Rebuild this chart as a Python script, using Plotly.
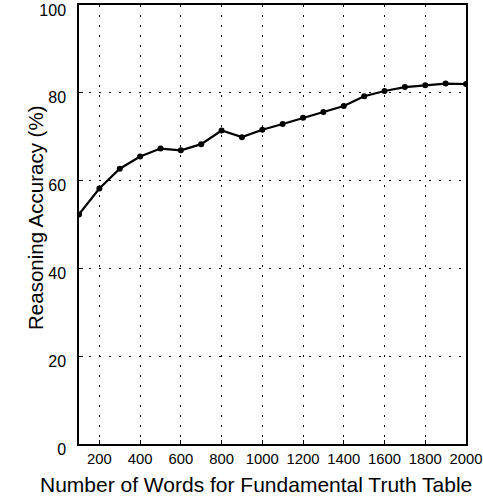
import plotly.graph_objects as go

words = [100, 200, 300, 400, 500, 600, 700, 800, 900, 1000,
         1100, 1200, 1300, 1400, 1500, 1600, 1700, 1800, 1900, 2000]
accuracy = [52.3, 58.2, 62.7, 65.5, 67.3, 66.9, 68.3, 71.4, 69.9, 71.6,
            72.9, 74.3, 75.6, 77.0, 79.2, 80.4, 81.3, 81.7, 82.1, 82.0]
x_ticks = [200, 400, 600, 800, 1000, 1200, 1400, 1600, 1800, 2000]
y_ticks = [0, 20, 40, 60, 80, 100]
x_title = "Number of Words for Fundamental Truth Table"
y_title = "Reasoning Accuracy (%)"

font_family = "Liberation Sans, Arial, Helvetica, sans-serif"

fig = go.Figure()
fig.add_trace(go.Scatter(
    x=words, y=accuracy, mode="lines+markers",
    line=dict(color="black", width=2.2),
    marker=dict(color="black", size=6, symbol="circle"),
    showlegend=False,
))

axis_common = dict(
    showline=True, linecolor="black", linewidth=1.5, mirror=True,
    showgrid=True, gridcolor="black", griddash="2px,8px", gridwidth=1,
    ticks="inside", ticklen=4, tickcolor="black",
    zeroline=False, automargin=False,
    ticklabeloverflow="allow",
)

fig.update_layout(
    width=483, height=496,
    margin=dict(l=79, r=17, t=5, b=52),
    paper_bgcolor="white", plot_bgcolor="white",
    font=dict(family=font_family, color="black"),
    xaxis=dict(range=[100, 2000], tickvals=x_ticks,
               tickfont=dict(family=font_family, size=14.8, color="black"),
               **axis_common),
    yaxis=dict(range=[0, 100], tickvals=y_ticks,
               ticklabelstandoff=8, ticklabelshift=5,
               tickfont=dict(family=font_family, size=16, color="black"),
               **axis_common),
    annotations=[
        dict(text=x_title, xref="paper", yref="paper", x=0.457, y=-0.093,
             xanchor="center", yanchor="middle", showarrow=False,
             font=dict(family=font_family, size=21, color="black")),
        dict(text=y_title, xref="paper", yref="paper", x=-0.111, y=0.515,
             xanchor="center", yanchor="middle", showarrow=False, textangle=-90,
             font=dict(family=font_family, size=20.5, color="black")),
    ],
)

fig.write_html("out.html", config={"displayModeBar": False},
               post_script="document.body.style.margin='0';")
